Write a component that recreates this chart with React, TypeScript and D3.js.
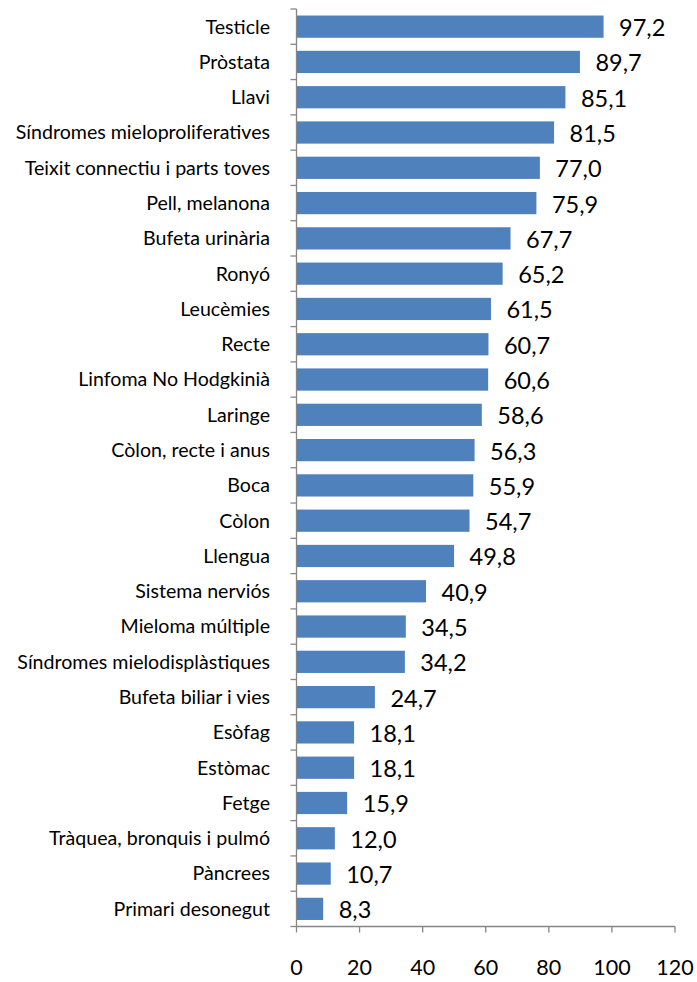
import React from "react";
import * as d3 from "d3";

const categories = [
  "Testicle", "Pròstata", "Llavi", "Síndromes mieloproliferatives", "Teixit connectiu i parts toves",
  "Pell, melanona", "Bufeta urinària", "Ronyó", "Leucèmies", "Recte", "Linfoma No Hodgkinià",
  "Laringe", "Còlon, recte i anus", "Boca", "Còlon", "Llengua", "Sistema nerviós",
  "Mieloma múltiple", "Síndromes mielodisplàstiques", "Bufeta biliar i vies", "Esòfag",
  "Estòmac", "Fetge", "Tràquea, bronquis i pulmó", "Pàncrees", "Primari desonegut",
];
const values = [
  97.2, 89.7, 85.1, 81.5, 77.0, 75.9, 67.7, 65.2, 61.5, 60.7, 60.6, 58.6, 56.3, 55.9, 54.7,
  49.8, 40.9, 34.5, 34.2, 24.7, 18.1, 18.1, 15.9, 12.0, 10.7, 8.3,
];
const xTicks = [0, 20, 40, 60, 80, 100, 120];

const W = 697;
const H = 982;
const left = 296.5;
const right = 675;
const top = 9;
const bottom = 926.5;
const font = "Lato, 'Open Sans', sans-serif";
const axisColor = "#868686";

export default function App() {
  const x = d3.scaleLinear().domain([0, 120]).range([left, right]);
  const y = d3.scaleBand<string>().domain(categories).range([top, bottom]).paddingInner(0.37).paddingOuter(0.185);
  const step = y.step();
  const fmt = (v: number) => v.toFixed(1).replace(".", ",");
  return (
    <svg width={W} height={H} style={{ position: "absolute", left: 0, top: 0, background: "#fff" }}>
      {categories.map((c, i) => (
        <g key={c}>
          <rect x={x(0) + 0.5} y={y(c)!} width={x(values[i]) - x(0)} height={y.bandwidth()} fill="#4F81BD" />
          <text x={x(values[i]) + 16} y={y(c)! + y.bandwidth() / 2 + 9.5} fontSize={23.5} fontFamily={font} fill="#000">
            {fmt(values[i])}
          </text>
          <text x={270} y={y(c)! + y.bandwidth() / 2} dy="0.35em" textAnchor="end" fontSize={19.6} fontFamily={font} fill="#000">
            {c}
          </text>
        </g>
      ))}
      <line x1={left} x2={left} y1={top} y2={bottom} stroke={axisColor} strokeWidth={1.3} />
      {d3.range(categories.length + 1).map((i) => (
        <line key={i} x1={left - 6} x2={left} y1={top + i * step} y2={top + i * step} stroke={axisColor} strokeWidth={1.3} />
      ))}
      <line x1={left} x2={right} y1={bottom} y2={bottom} stroke={axisColor} strokeWidth={1.3} />
      {xTicks.map((t) => (
        <g key={t}>
          <line x1={x(t)} x2={x(t)} y1={bottom} y2={bottom + 6} stroke={axisColor} strokeWidth={1.3} />
          <text x={x(t)} y={975} textAnchor="middle" fontSize={21.5} fontFamily={font} fill="#000">
            {t}
          </text>
        </g>
      ))}
    </svg>
  );
}
